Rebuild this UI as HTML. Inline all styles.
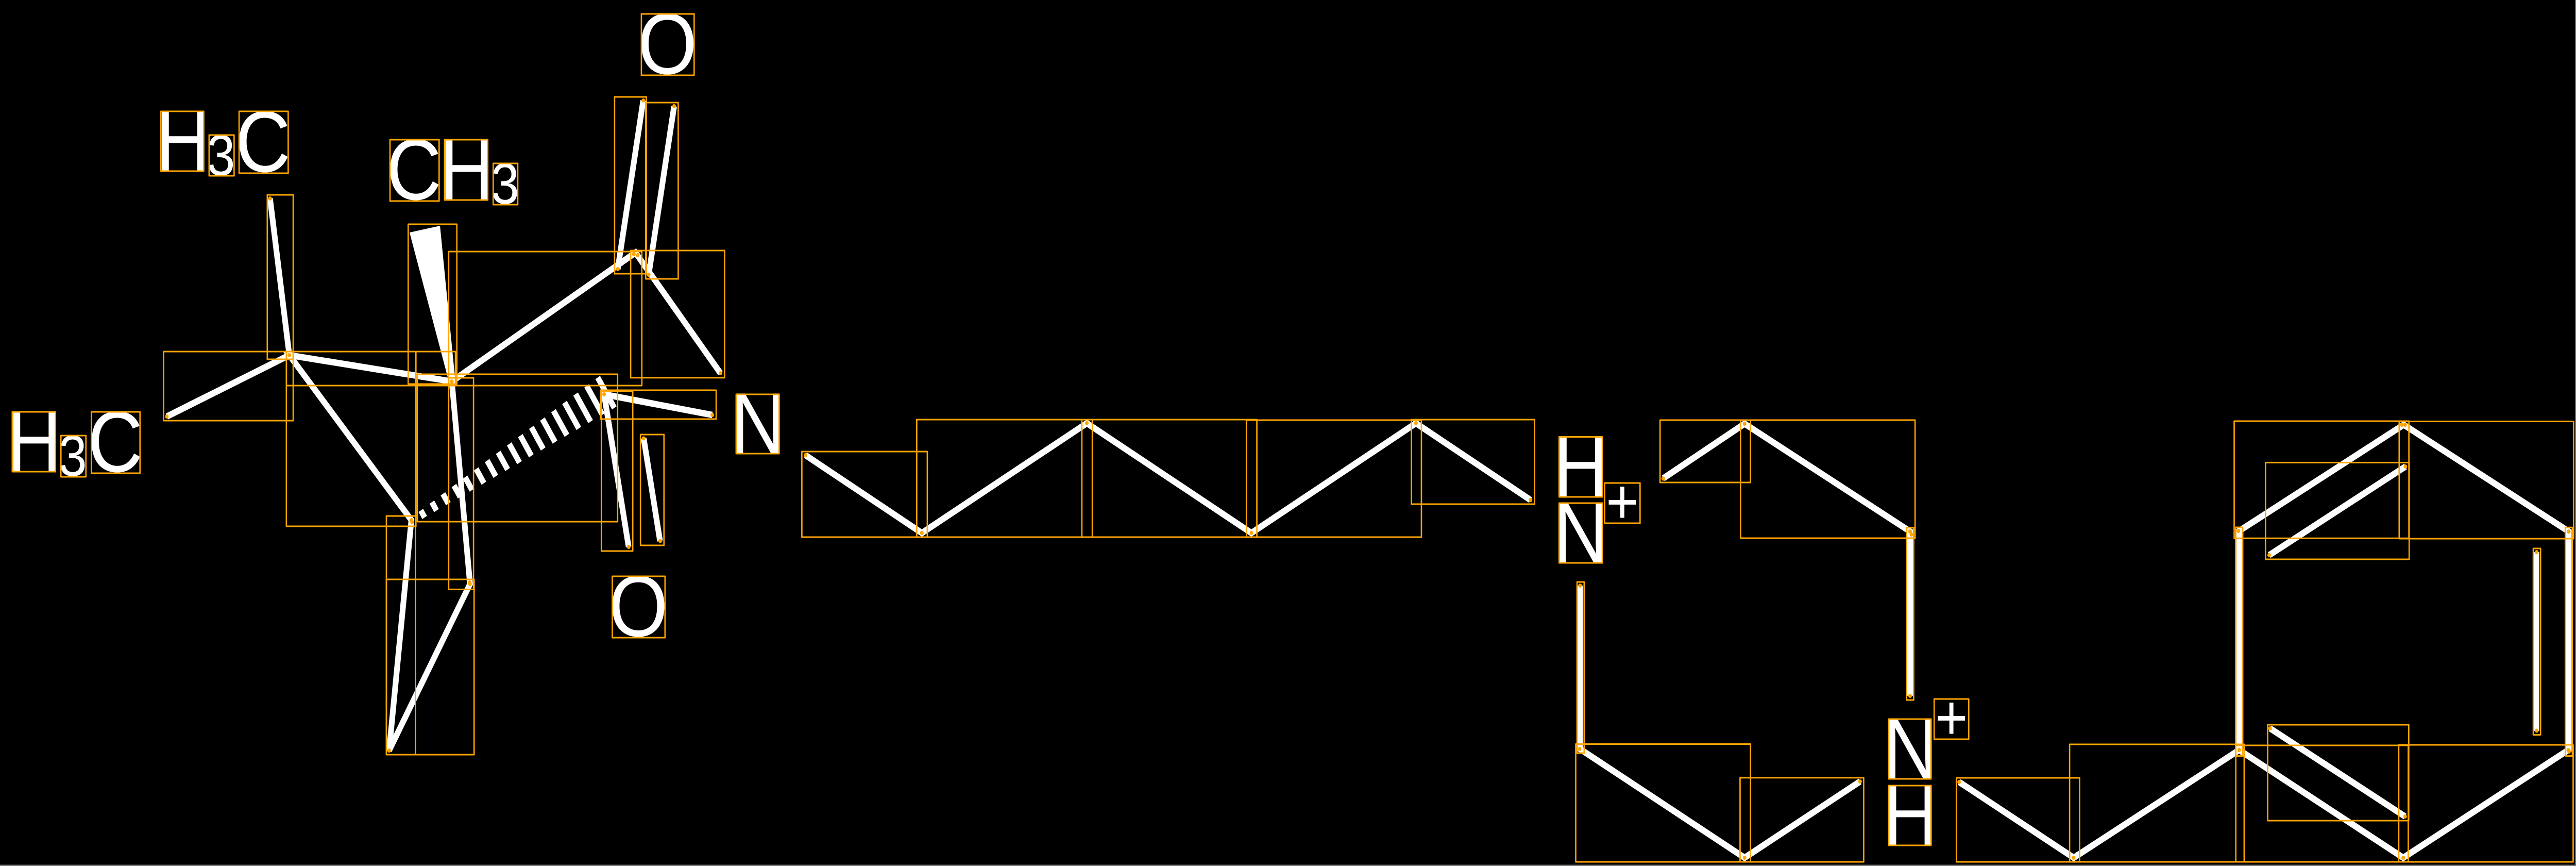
<!DOCTYPE html>
<html><head><meta charset="utf-8"><style>
html,body{margin:0;padding:0;background:#000;width:100%;height:100%;overflow:hidden}
svg{display:block;position:absolute;left:0;top:0;width:100vw;height:100vh}
.b{fill:none;stroke:#fff;stroke-width:12.5;stroke-linejoin:miter;stroke-miterlimit:3;stroke-linecap:butt}
.h{stroke:#fff;stroke-width:12;fill:none}
.r rect{fill:none;stroke:#FFA500;stroke-width:3;stroke-linejoin:round}
.d circle{fill:#FFA500;r:4px}
text{font-family:"Liberation Sans",sans-serif;fill:#fff;font-size:168px}
.s{font-size:112px}
.p{font-size:123px}
</style></head><body>
<svg viewBox="0 0 5667 1680" preserveAspectRatio="none" xmlns="http://www.w3.org/2000/svg">
<rect width="5667" height="1680" fill="#000"/>
<rect x="5665" y="0" width="2" height="1680" fill="#777"/>
<rect x="0" y="1677.5" width="5667" height="2.5" fill="#777"/>
<!-- labels -->
<text x="342" y="331">H</text><text class="s" x="455" y="340">3</text><text x="518" y="333">C</text>
<text x="850" y="387">C</text><text x="966" y="387">H</text><text class="s" x="1080" y="395">3</text>
<text x="15" y="914">H</text><text class="s" x="129" y="923">3</text><text x="193" y="915">C</text>
<text x="1403" y="143">O</text><text x="1607" y="879">N</text><text x="1339" y="1234">O</text>
<text x="3417" y="963">H</text><text x="3417" y="1091">N</text>
<text x="4142" y="1510">N</text><text x="4142" y="1639">H</text>
<text class="p" x="3569" y="1015.500" text-anchor="middle">+</text>
<text class="p" x="4293" y="1434.500" text-anchor="middle">+</text>
<!-- bonds -->
<polyline class="b" points="594,385 636.5,689 367,808"/>
<polyline class="b" points="994,740 636.5,689 905,1009 856,1456 1034,1133 994,740"/>
<polygon fill="#fff" points="901,451 968,438 1002,742 988,742"/>
<polyline class="b" points="994,740 1398,490 1585,724"/>
<polyline class="b" points="1415,195 1359,522"/>
<polyline class="b" points="1483,206 1427,533"/>
<g class="h">
<line x1="925.800" y1="990.200" x2="934.200" y2="1003.800"/>
<line x1="950.100" y1="974.100" x2="960.300" y2="990.500"/>
<line x1="974.400" y1="958" x2="986.400" y2="977.200"/>
<line x1="998.700" y1="941.800" x2="1012.500" y2="964"/>
<line x1="1023.100" y1="925.700" x2="1038.500" y2="950.700"/>
<line x1="1047.400" y1="909.600" x2="1064.600" y2="937.400"/>
<line x1="1071.700" y1="893.500" x2="1090.700" y2="924.100"/>
<line x1="1096" y1="877.400" x2="1116.800" y2="910.800"/>
<line x1="1120.300" y1="861.200" x2="1142.900" y2="897.600"/>
<line x1="1144.700" y1="845.100" x2="1168.900" y2="884.300"/>
<line x1="1169" y1="829" x2="1195" y2="871"/>
<line x1="1193.300" y1="812.900" x2="1221.100" y2="857.700"/>
<line x1="1217.600" y1="796.800" x2="1247.200" y2="844.400"/>
<line x1="1241.900" y1="780.700" x2="1273.300" y2="831.100"/>
<line x1="1266.300" y1="764.500" x2="1299.300" y2="817.900"/>
<line x1="1290.600" y1="748.500" x2="1325.400" y2="804.500"/>
<line x1="1314.900" y1="732.300" x2="1351.500" y2="791.300"/>
</g>
<polyline class="b" points="1567,805 1329,765 1383,1061"/>
<polyline class="b" points="1416,850 1452,1049.5"/>
<polyline class="b" points="1772,883 2028,1034 2391,821 2753,1034 3115,821 3367,970"/>
<polyline class="b" points="3476,1136 3476,1453 3838,1664 4092,1516"/>
<polyline class="b" points="3659,928 3838,822 4202,1031 4202,1350"/>
<polyline class="b" points="4310,1517 4562,1664 4926,1455 5287,1664 5650,1455"/>
<polyline class="b" points="4926,1456 4926,1030 5288,824 5651,1031 5651,1458"/>
<polyline class="b" points="5292,905 4992,1077"/>
<polyline class="b" points="4994,1413 5291,1584"/>
<polyline class="b" points="5580,1071 5580,1418"/>
<!-- boxes -->
<g class="r">
<rect x="354" y="216" width="94" height="116"/><rect x="460" y="262" width="55" height="79"/><rect x="526" y="216" width="108" height="120"/>
<rect x="858" y="271" width="108" height="119"/><rect x="978" y="271" width="95" height="117"/><rect x="1085" y="317" width="54" height="80"/>
<rect x="27" y="799" width="95" height="116"/><rect x="134" y="845" width="55" height="80"/><rect x="201" y="799" width="107" height="119"/>
<rect x="1411" y="27" width="116" height="119"/><rect x="1619.5" y="765" width="94.500" height="115"/><rect x="1347" y="1118" width="116" height="119"/>
<rect x="3430" y="847.500" width="95" height="116.500"/><rect x="3430" y="976" width="95" height="116"/><rect x="3530" y="937" width="78" height="78"/>
<rect x="4155" y="1395" width="93" height="116"/><rect x="4155" y="1524" width="93" height="116"/><rect x="4255" y="1356" width="76" height="78"/>
<rect x="588" y="378" width="57" height="319"/>
<rect x="360" y="682" width="285" height="134"/>
<rect x="630" y="682" width="372" height="66"/>
<rect x="630" y="682" width="285" height="339"/>
<rect x="898" y="435" width="107" height="310"/>
<rect x="987" y="488" width="425" height="260"/>
<rect x="1352" y="188" width="70" height="343"/>
<rect x="1420.500" y="199" width="71.500" height="342"/>
<rect x="1387.400" y="486" width="206.600" height="246.700"/>
<rect x="918" y="726" width="440.700" height="286"/>
<rect x="987" y="733" width="54.700" height="410.400"/>
<rect x="850" y="1001" width="64" height="463"/>
<rect x="850" y="1124" width="193" height="340"/>
<rect x="1321" y="757" width="254.500" height="56"/>
<rect x="1323" y="759" width="69" height="310"/>
<rect x="1409" y="843" width="51.700" height="215"/>
<rect x="1764" y="876" width="276" height="166"/>
<rect x="2016.700" y="814" width="386.300" height="228"/>
<rect x="2380" y="814" width="385" height="228"/>
<rect x="2742" y="815" width="385" height="227"/>
<rect x="3105" y="814" width="271" height="164"/>
<rect x="3469.400" y="1129" width="15.600" height="332"/>
<rect x="3466.500" y="1443.500" width="384.500" height="228.500"/>
<rect x="3828" y="1508.700" width="272" height="163.300"/>
<rect x="3652" y="815" width="199" height="121"/>
<rect x="3829" y="815" width="384" height="229"/>
<rect x="4194.500" y="1023.700" width="15.500" height="334.300"/>
<rect x="4304" y="1509" width="271" height="163"/>
<rect x="4553" y="1444" width="384" height="228"/>
<rect x="4918.600" y="1446" width="379.400" height="226"/>
<rect x="5277" y="1445" width="383.700" height="227"/>
<rect x="4988.700" y="1406" width="310.300" height="186"/>
<rect x="4915" y="817" width="384.400" height="227.300"/>
<rect x="5278" y="817.500" width="383.700" height="227.500"/>
<rect x="4984" y="897.400" width="316" height="187.600"/>
<rect x="4918.400" y="1023" width="15.400" height="443.600"/>
<rect x="5643.500" y="1023.300" width="15.500" height="443.300"/>
<rect x="5573" y="1064" width="16" height="361.500"/>
</g>
<!-- dots -->
<g class="d">
<circle cx="594" cy="385"/><circle cx="636.5" cy="689"/><circle cx="367" cy="808"/><circle cx="994" cy="740"/>
<circle cx="905" cy="1009"/><circle cx="906.500" cy="1013"/><circle cx="1034" cy="1133"/><circle cx="1033" cy="1130"/><circle cx="856" cy="1456"/>
<circle cx="1415.400" cy="195"/><circle cx="1359.300" cy="522"/><circle cx="1483" cy="206"/><circle cx="1427" cy="533"/>
<circle cx="1394.400" cy="493"/><circle cx="1403" cy="495"/><circle cx="1585" cy="724"/>
<circle cx="1329" cy="765"/><circle cx="1567" cy="805"/><circle cx="1383" cy="1061"/><circle cx="1416" cy="850.500"/><circle cx="1452.400" cy="1049.500"/>
<circle cx="1772" cy="883"/><circle cx="2028" cy="1034"/><circle cx="2391" cy="821"/><circle cx="2753" cy="1034"/><circle cx="3115" cy="821"/><circle cx="3367" cy="970"/>
<circle cx="3476" cy="1136"/><circle cx="3475" cy="1453"/><circle cx="3838" cy="1664"/><circle cx="4092" cy="1516"/>
<circle cx="3659" cy="928.500"/><circle cx="3838" cy="822"/><circle cx="4202" cy="1031"/><circle cx="4205" cy="1037"/><circle cx="4202" cy="1350"/>
<circle cx="4310" cy="1517"/><circle cx="4562" cy="1664"/><circle cx="4926" cy="1455"/><circle cx="5287" cy="1664"/><circle cx="5650" cy="1455"/>
<circle cx="4924.400" cy="1030"/><circle cx="5284" cy="824"/><circle cx="5291" cy="824"/><circle cx="5651" cy="1031"/><circle cx="5651.700" cy="1458"/>
<circle cx="5291.700" cy="905"/><circle cx="4992" cy="1077"/><circle cx="4994" cy="1413"/><circle cx="5291" cy="1584"/><circle cx="5580.400" cy="1071"/><circle cx="5580.400" cy="1417.500"/>
</g>
</svg>
</body></html>
